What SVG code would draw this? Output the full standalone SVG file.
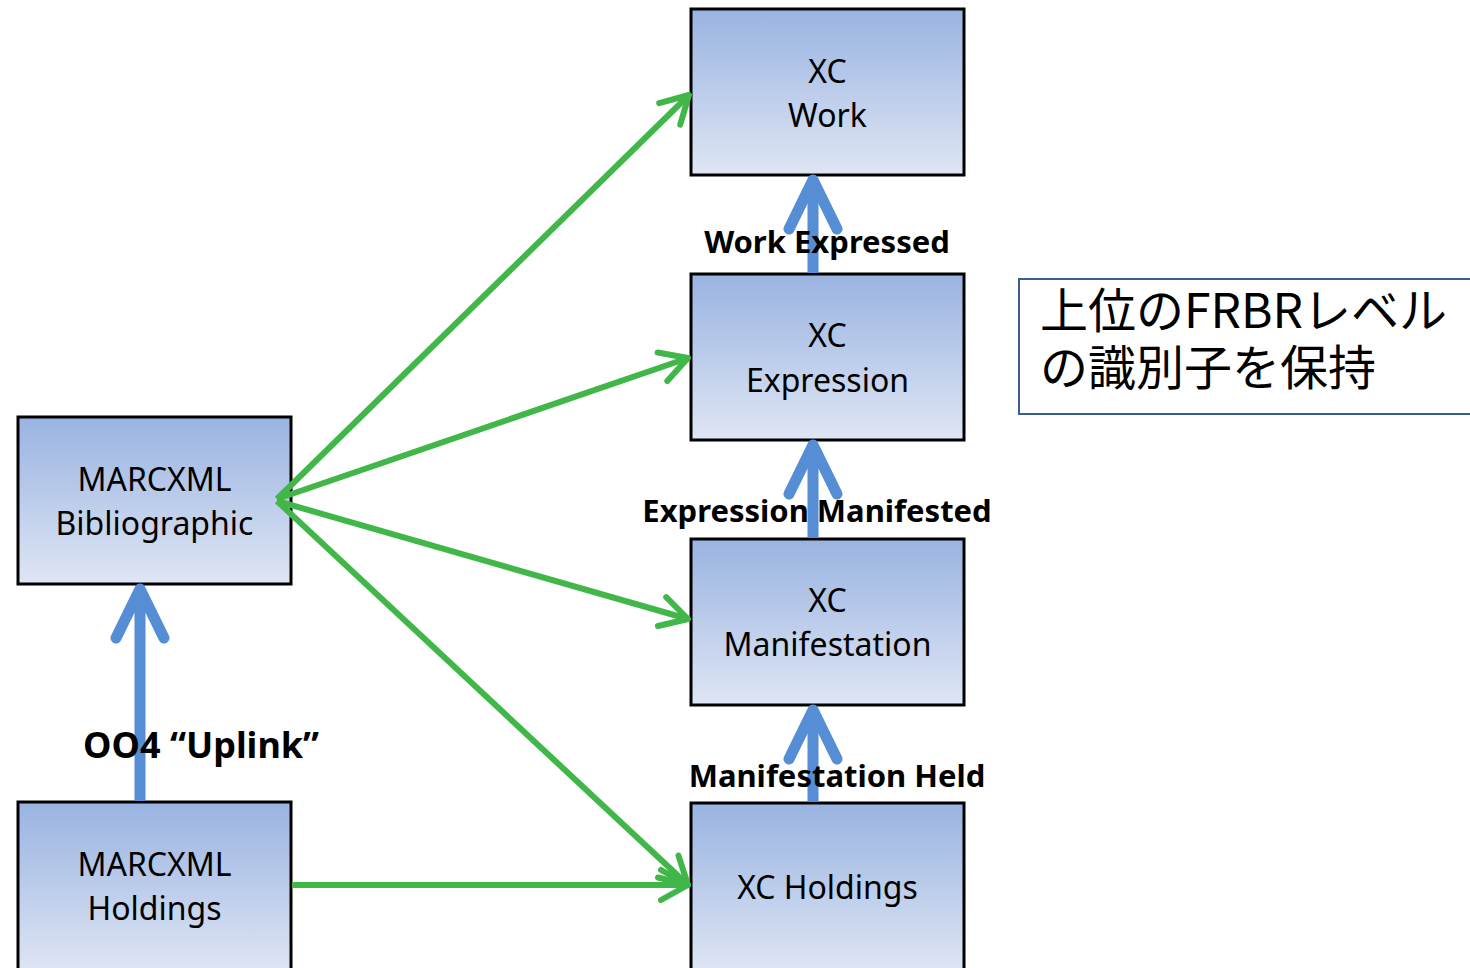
<svg xmlns="http://www.w3.org/2000/svg" width="1470" height="968" viewBox="0 0 1470 968">
<defs>
<linearGradient id="fill" x1="0" y1="0" x2="0" y2="1">
<stop offset="0" stop-color="#99b3e1"/>
<stop offset="1" stop-color="#dfe6f4"/>
</linearGradient>
<marker id="gh" markerUnits="userSpaceOnUse" viewBox="-40 -25 50 50" refX="0" refY="0" markerWidth="50" markerHeight="50" orient="auto" overflow="visible">
<path d="M-27,-15 L0,0 L-27,15" fill="none" stroke="#41b649" stroke-width="6" stroke-linecap="round" stroke-linejoin="round"/>
</marker>
<marker id="bh" markerUnits="userSpaceOnUse" viewBox="-60 -35 70 70" refX="0" refY="0" markerWidth="70" markerHeight="70" orient="auto" overflow="visible">
<path d="M-49,-24 L0,0 L-49,24" fill="none" stroke="#558ed5" stroke-width="11" stroke-linecap="round" stroke-linejoin="round"/>
</marker>
</defs>
<style>
.box{fill:url(#fill);stroke:#000;stroke-width:3}
.t{font-family:"Noto Sans","Open Sans","Liberation Sans",sans-serif;font-size:32px;fill:#000;text-anchor:middle}
.lb{font-family:"Noto Sans","Open Sans","Liberation Sans",sans-serif;font-size:31px;font-weight:bold;fill:#000;text-anchor:middle}
.g{fill:none;stroke:#41b649;stroke-width:6;marker-end:url(#gh)}
.b{fill:none;stroke:#558ed5;stroke-width:11;marker-end:url(#bh)}
.jp{font-family:"Noto Sans CJK JP","Noto Sans",sans-serif;font-size:48px;fill:#000}
</style>
<rect width="1470" height="968" fill="#fff"/>
<g id="xc-work">
<rect class="box" x="691" y="9" width="273" height="166"/>
<text class="t" x="827.5" y="83">XC</text>
<text class="t" x="827.5" y="127">Work</text>
</g>
<g id="xc-expression">
<rect class="box" x="691" y="274" width="273" height="166"/>
<text class="t" x="827.5" y="347">XC</text>
<text class="t" x="827.5" y="392">Expression</text>
</g>
<g id="xc-manifestation">
<rect class="box" x="691" y="539" width="273" height="166"/>
<text class="t" x="827.5" y="612">XC</text>
<text class="t" x="827.5" y="656">Manifestation</text>
</g>
<g id="xc-holdings">
<rect class="box" x="691" y="803" width="273" height="170"/>
<text class="t" x="827.5" y="899">XC Holdings</text>
</g>
<g id="marcxml-bib">
<rect class="box" x="18" y="417" width="273" height="167"/>
<text class="t" x="154.5" y="491">MARCXML</text>
<text class="t" x="154.5" y="535">Bibliographic</text>
</g>
<g id="marcxml-holdings">
<rect class="box" x="18" y="802" width="273" height="171"/>
<text class="t" x="154.5" y="876">MARCXML</text>
<text class="t" x="154.5" y="920">Holdings</text>
</g>
<g id="connectors">
<line class="g" x1="277" y1="499" x2="689" y2="95"/>
<line class="g" x1="277" y1="499" x2="688" y2="358"/>
<line class="g" x1="277" y1="501" x2="688" y2="619"/>
<line class="g" x1="277" y1="501" x2="688" y2="885"/>
<line class="g" x1="292" y1="885" x2="688" y2="885"/>
<line class="b" x1="813" y1="273" x2="813" y2="180"/>
<line class="b" x1="813" y1="538" x2="813" y2="445"/>
<line class="b" x1="813" y1="802" x2="813" y2="710"/>
<line class="b" x1="140" y1="801" x2="140" y2="589"/>
</g>
<g id="labels">
<text class="lb" x="827" y="253">Work Expressed</text>
<text class="lb" x="817" y="522">Expression Manifested</text>
<text class="lb" x="837" y="787">Manifestation Held</text>
<text class="lb" x="83" y="758" style="text-anchor:start;font-size:36px">OO4 “Uplink”</text>
</g>
<g id="note">
<rect x="1019" y="279" width="470" height="135" fill="#fff" stroke="#3a5f8f" stroke-width="2"/>
<text class="jp" x="1040" y="328">上位のFRBRレベル</text>
<text class="jp" x="1040" y="385">の識別子を保持</text>
</g>
</svg>
